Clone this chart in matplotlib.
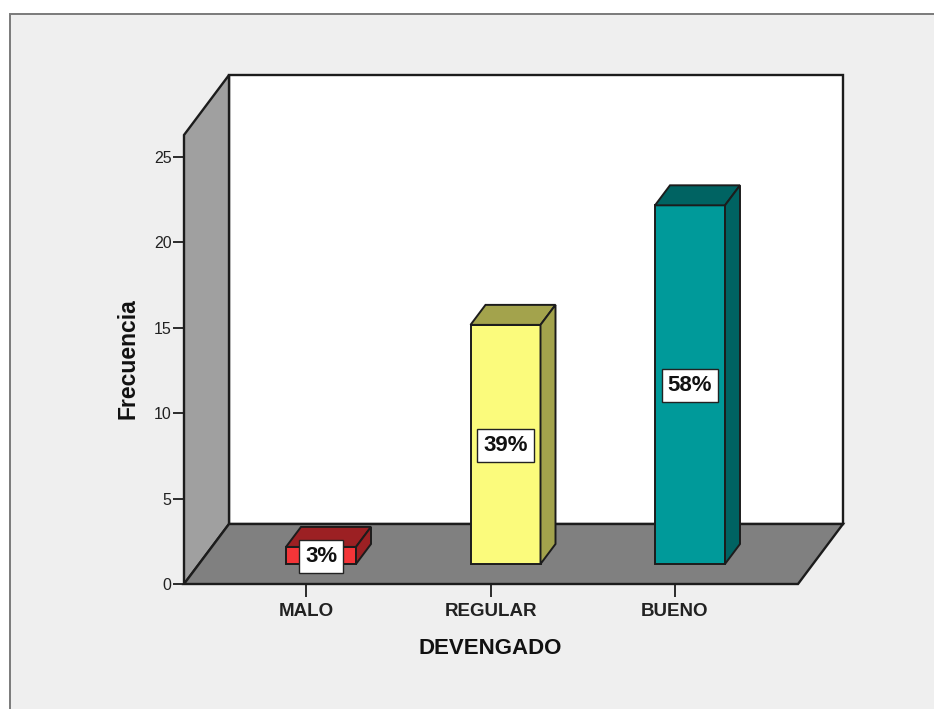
import matplotlib
matplotlib.use("Agg")
import matplotlib.pyplot as plt
from matplotlib.patches import Polygon, Rectangle

plt.rcParams["font.family"] = ["Liberation Sans", "DejaVu Sans"]

categories = ["MALO", "REGULAR", "BUENO"]
frecuencia = [1, 14, 21]
porcentajes = ["3%", "39%", "58%"]
yticks = [0, 5, 10, 15, 20, 25]
xlabel = "DEVENGADO"
ylabel = "Frecuencia"

front_colors = ["#f43538", "#fbfb7c", "#009a9a"]
top_colors = ["#9c2023", "#a3a34c", "#006362"]
side_colors = ["#9c2023", "#a3a34c", "#006362"]

W, H = 934, 709
fig = plt.figure(figsize=(W / 100, H / 100), dpi=100, facecolor="white")

# panel grey with border, runs off right and bottom edge
fig.add_artist(Rectangle((9.5 / W, -0.01), 1, 1 - 13.5 / H + 0.01, transform=fig.transFigure,
                         facecolor="#efefef", edgecolor="#7a7a7a", linewidth=1.4, zorder=-1))

# axes = the front plane of the fake 3d box
left, right, bottom, top = 184, 798, 584, 135
ax = fig.add_axes([left / W, 1 - bottom / H, (right - left) / W, (bottom - top) / H])
px_x = 184.5  # px per category
px_y = 17.08  # px per count
ax.set_xlim((left - 306) / px_x, (right - 306) / px_x)
ax.set_ylim(0, (bottom - top) / px_y)
ax.patch.set_visible(False)
for s in ax.spines.values():
    s.set_visible(False)

x0, x1 = ax.get_xlim()
y0, y1 = ax.get_ylim()
dx = 45 / px_x
dy = 60 / px_y
line = "#1c1c1c"
lw = 1.7


def face(points, color, z=1, edge=line, width=lw):
    ax.add_patch(Polygon(points, closed=True, facecolor=color, edgecolor=edge, linewidth=width,
                         joinstyle="miter", clip_on=False, zorder=z))


# walls
face([(x0 + dx, y0 + dy), (x1 + dx, y0 + dy), (x1 + dx, y1 + dy), (x0 + dx, y1 + dy)], "white")
face([(x0, y0), (x0 + dx, y0 + dy), (x0 + dx, y1 + dy), (x0, y1)], "#a0a0a0")
face([(x0, y0), (x1, y0), (x1 + dx, y0 + dy), (x0 + dx, y0 + dy)], "#808080")

# bars
bar_w = 70 / px_x
bar_dx = dx / 3
bar_dy = dy / 3
for i, v in enumerate(frecuencia):
    xl = i + bar_dx - bar_w / 2
    xr = xl + bar_w
    yb = bar_dy
    yt = bar_dy + v
    face([(xl, yb), (xr, yb), (xr, yt), (xl, yt)], front_colors[i], z=3, width=1.4)
    face([(xl, yt), (xr, yt), (xr + bar_dx, yt + bar_dy), (xl + bar_dx, yt + bar_dy)], top_colors[i], z=3, width=1.4)
    face([(xr, yb), (xr + bar_dx, yb + bar_dy), (xr + bar_dx, yt + bar_dy), (xr, yt)], side_colors[i], z=3, width=1.4)
    # label sits a px lower than the bar middle
    ax.text(i + bar_dx, yb + v / 2 - 1 / px_y, porcentajes[i], ha="center", va="center", fontsize=16,
            fontweight="bold", color="#111111", zorder=5,
            bbox=dict(boxstyle="square,pad=0.27", facecolor="white", edgecolor="#222222", linewidth=1))

ax.set_xticks(range(len(categories)), categories)
ax.set_yticks(yticks)
ax.tick_params(axis="x", length=9, width=1.3, color=line, pad=5, labelsize=13.5)
ax.tick_params(axis="y", length=8, width=1.3, color=line, pad=1, labelsize=11.5, labelcolor="#222222")
for t in ax.get_xticklabels():
    t.set_fontweight("bold")
    t.set_color("#222222")

fig.text(490 / W, 1 - 648 / H, xlabel, ha="center", va="center", fontsize=16, fontweight="bold", color="#111111")
fig.text(128 / W, 1 - 358.5 / H, ylabel, ha="center", va="center", rotation=90, fontsize=16.5,
         fontweight="bold", color="#111111")

fig.savefig("out.png", dpi=100, facecolor="white")
